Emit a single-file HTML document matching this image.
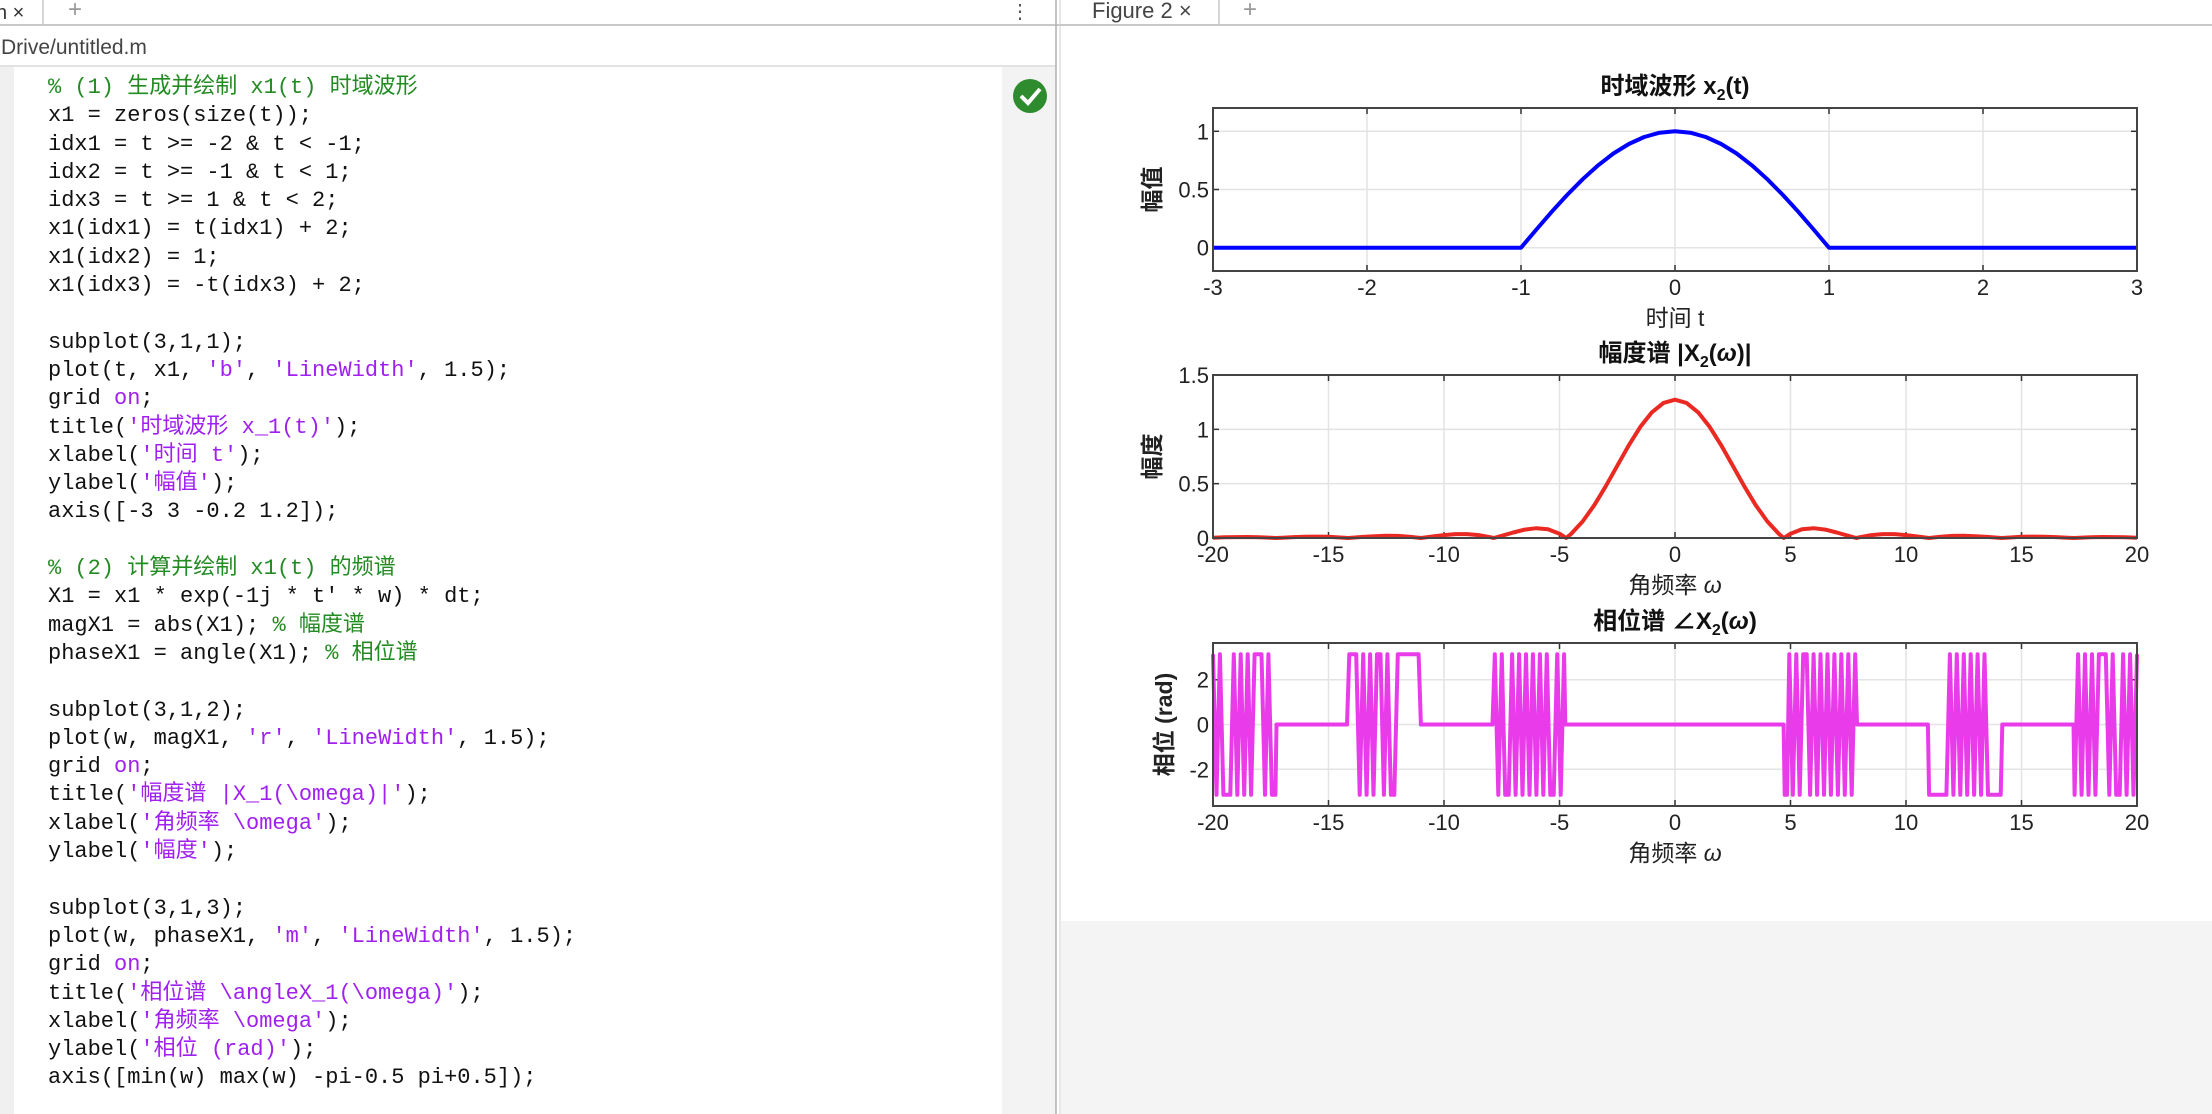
<!DOCTYPE html>
<html><head><meta charset="utf-8">
<style>
html,body{margin:0;padding:0;width:2212px;height:1114px;overflow:hidden;background:#fff;font-family:"Liberation Sans","Noto Sans CJK SC",sans-serif;}
#code{position:absolute;left:48px;top:74px;margin:0;font-family:"Liberation Mono","Noto Sans CJK SC",monospace;font-size:22px;line-height:28.3px;color:#111;white-space:pre;}
.c{color:#228B22}.s{color:#A020F0}
</style></head>
<body>
<svg id="page" width="2212" height="1114" style="position:absolute;left:0;top:0" xmlns="http://www.w3.org/2000/svg" font-family="Liberation Sans, Noto Sans CJK SC, sans-serif">
  <rect x="0" y="0" width="2212" height="1114" fill="#ffffff"/>
  <rect x="0" y="0" width="1056" height="26" fill="#ffffff"/>
  <line x1="0" y1="25" x2="1073" y2="25" stroke="#c8c8c8" stroke-width="2"/>
  <line x1="43" y1="0" x2="43" y2="25" stroke="#c8c8c8" stroke-width="1.5"/>
  <text x="-4" y="19" font-size="20" fill="#333">n ×</text>
  <text x="68" y="17" font-size="24" fill="#999">+</text>
  <text x="1010" y="18" font-size="20" fill="#555">⋮</text>
  <text x="1" y="54" font-size="21" fill="#444">Drive/untitled.m</text>
  <line x1="0" y1="66" x2="1056" y2="66" stroke="#e2e2e2" stroke-width="2"/>
  <rect x="0" y="67" width="14" height="1047" fill="#f0f0f0"/>
  <rect x="1002" y="67" width="54" height="1047" fill="#f3f3f3"/>
  <circle cx="1030" cy="96" r="17" fill="#2e8b2e"/>
  <path d="M1021 96 L1028 103 L1040 89" stroke="#fff" stroke-width="4" fill="none"/>
  <line x1="1056" y1="0" x2="1056" y2="1114" stroke="#b0b0b0" stroke-width="1.5"/>
  <line x1="1060" y1="0" x2="1060" y2="1114" stroke="#d0d0d0" stroke-width="1"/>
  <line x1="1060" y1="25" x2="2212" y2="25" stroke="#c8c8c8" stroke-width="2"/>
  <line x1="1219" y1="0" x2="1219" y2="25" stroke="#c8c8c8" stroke-width="1.5"/>
  <text x="1092" y="18" font-size="22" fill="#444">Figure 2 ×</text>
  <text x="1243" y="17" font-size="24" fill="#999">+</text>
  <rect x="1061" y="921" width="1151" height="193" fill="#f4f4f4"/>
  <g id="charts"></g>
</svg>
<pre id="code"><span class="c">% (1) 生成并绘制 x1(t) 时域波形</span>
x1 = zeros(size(t));
idx1 = t &gt;= -2 &amp; t &lt; -1;
idx2 = t &gt;= -1 &amp; t &lt; 1;
idx3 = t &gt;= 1 &amp; t &lt; 2;
x1(idx1) = t(idx1) + 2;
x1(idx2) = 1;
x1(idx3) = -t(idx3) + 2;

subplot(3,1,1);
plot(t, x1, <span class="s">'b'</span>, <span class="s">'LineWidth'</span>, 1.5);
grid <span class="s">on</span>;
title(<span class="s">'时域波形 x_1(t)'</span>);
xlabel(<span class="s">'时间 t'</span>);
ylabel(<span class="s">'幅值'</span>);
axis([-3 3 -0.2 1.2]);

<span class="c">% (2) 计算并绘制 x1(t) 的频谱</span>
X1 = x1 * exp(-1j * t' * w) * dt;
magX1 = abs(X1); <span class="c">% 幅度谱</span>
phaseX1 = angle(X1); <span class="c">% 相位谱</span>

subplot(3,1,2);
plot(w, magX1, <span class="s">'r'</span>, <span class="s">'LineWidth'</span>, 1.5);
grid <span class="s">on</span>;
title(<span class="s">'幅度谱 |X_1(\omega)|'</span>);
xlabel(<span class="s">'角频率 \omega'</span>);
ylabel(<span class="s">'幅度'</span>);

subplot(3,1,3);
plot(w, phaseX1, <span class="s">'m'</span>, <span class="s">'LineWidth'</span>, 1.5);
grid <span class="s">on</span>;
title(<span class="s">'相位谱 \angleX_1(\omega)'</span>);
xlabel(<span class="s">'角频率 \omega'</span>);
ylabel(<span class="s">'相位 (rad)'</span>);
axis([min(w) max(w) -pi-0.5 pi+0.5]);</pre>
<script>
const timeT = [-3,-1,-0.9,-0.8,-0.7,-0.6,-0.5,-0.4,-0.3,-0.2,-0.1,0,0.1,0.2,0.3,0.4,0.5,0.6,0.7,0.8,0.9,1,3];
const timeX = [0,0,0.1564,0.309,0.454,0.5878,0.7071,0.809,0.891,0.9511,0.9877,1,0.9877,0.9511,0.891,0.809,0.7071,0.5878,0.454,0.309,0.1564,0,0];
const timeXTicks = [-3,-2,-1,0,1,2,3];
const timeYTicks = [0,0.5,1];

const magW = [-20,-19.5,-19,-18.5,-18,-17.5,-17.28,-17,-16.5,-16,-15.5,-15,-14.5,-14.14,-14,-13.5,-13,-12.5,-12,-11.5,-11,-10.5,-10,-9.5,-9,-8.5,-8,-7.85,-7.5,-7,-6.5,-6,-5.5,-5,-4.71,-4.5,-4,-3.5,-3,-2.5,-2,-1.5,-1,-0.5,0,0.5,1,1.5,2,2.5,3,3.5,4,4.5,4.71,5,5.5,6,6.5,7,7.5,7.85,8,8.5,9,9.5,10,10.5,11,11.5,12,12.5,13,13.5,14,14.14,14.5,15,15.5,16,16.5,17,17.28,17.5,18,18.5,19,19.5,20];
const magV = [0.0032,0.0064,0.0087,0.009,0.0065,0.002,0,0.003,0.008,0.012,0.013,0.011,0.005,0,0.002,0.01,0.017,0.02,0.019,0.012,0,0.014,0.027,0.036,0.036,0.027,0.007,0,0.02,0.051,0.077,0.09,0.08,0.04,0,0.037,0.152,0.301,0.476,0.665,0.853,1.022,1.157,1.243,1.273,1.243,1.157,1.022,0.853,0.665,0.476,0.301,0.152,0.037,0,0.04,0.08,0.09,0.077,0.051,0.02,0,0.007,0.027,0.036,0.036,0.027,0.014,0,0.012,0.019,0.02,0.017,0.01,0.002,0,0.005,0.011,0.013,0.012,0.008,0.003,0,0.002,0.0065,0.009,0.0087,0.0064,0.0032];
const freqTicks = [-20,-15,-10,-5,0,5,10,15,20];
const magYTicks = [0,0.5,1,1.5];

const phaseW = [-20,-19.85,-19.7,-19.55,-19.4,-19.25,-19.1,-18.95,-18.8,-18.65,-18.5,-18.35,-18.2,-18.05,-17.9,-17.75,-17.6,-17.45,-17.3,-17.25,-14.2,
 -14.1,-13.95,-13.8,-13.65,-13.5,-13.35,-13.2,-13.05,-12.9,-12.75,-12.6,-12.45,-12.3,-12.15,-12,-11.85,-11.7,-11.55,-11.4,-11.25,-11.1,-11.0,-7.9,
 -7.8,-7.65,-7.5,-7.35,-7.2,-7.05,-6.9,-6.75,-6.6,-6.45,-6.3,-6.15,-6,-5.85,-5.7,-5.55,-5.4,-5.25,-5.1,-4.95,-4.8,-4.75,4.7,
 4.75,4.85,4.95,5.1,5.25,5.4,5.55,5.7,5.85,6,6.15,6.3,6.45,6.6,6.75,6.9,7.05,7.2,7.35,7.5,7.65,7.8,7.88,10.95,
 11,11.15,11.3,11.45,11.6,11.75,11.9,12.05,12.2,12.35,12.5,12.65,12.8,12.95,13.1,13.25,13.4,13.55,13.7,13.85,14,14.1,14.17,17.25,
 17.3,17.45,17.6,17.75,17.9,18.05,18.2,18.35,18.5,18.65,18.8,18.95,19.1,19.25,19.4,19.55,19.7,19.85,20];
const phaseV = [3.14,-3.14,3.14,-3.14,-3.14,-3.14,3.14,-3.14,3.14,-3.14,3.14,-3.14,3.14,3.14,3.14,-3.14,3.14,-3.14,-3.14,0,0,
 3.14,3.14,3.14,-3.14,3.14,-3.14,3.14,-3.14,3.14,3.14,-3.14,3.14,-3.14,-3.14,3.14,3.14,3.14,3.14,3.14,3.14,3.14,0,0,
 3.14,-3.14,3.14,-3.14,-3.14,3.14,-3.14,3.14,-3.14,3.14,-3.14,3.14,-3.14,3.14,-3.14,3.14,-3.14,-3.14,3.14,-3.14,3.14,0,0,
 -3.14,-3.14,3.14,-3.14,3.14,-3.14,3.14,3.14,-3.14,3.14,-3.14,3.14,-3.14,3.14,-3.14,3.14,-3.14,3.14,-3.14,3.14,-3.14,3.14,0,0,
 -3.14,-3.14,-3.14,-3.14,-3.14,-3.14,3.14,-3.14,3.14,-3.14,3.14,-3.14,3.14,-3.14,3.14,-3.14,3.14,-3.14,-3.14,-3.14,-3.14,-3.14,0,0,
 -3.14,3.14,-3.14,3.14,-3.14,3.14,-3.14,3.14,3.14,3.14,-3.14,3.14,-3.14,-3.14,3.14,-3.14,3.14,-3.14,3.14];
const phaseYTicks = [-2,0,2];

const NS = 'http://www.w3.org/2000/svg';
const root = document.getElementById('charts');
function mk(tag, attrs, parent) {
  const e = document.createElementNS(NS, tag);
  for (const k in attrs) e.setAttribute(k, attrs[k]);
  (parent || root).appendChild(e);
  return e;
}

function drawPlot(cfg) {
  const L = 1213, R = 2137, T = cfg.top, B = cfg.top + 163;
  const sx = v => L + (v - cfg.xmin) / (cfg.xmax - cfg.xmin) * (R - L);
  const sy = v => B - (v - cfg.ymin) / (cfg.ymax - cfg.ymin) * (B - T);
  const g = mk('g', {});
  
  
  mk('rect', {x: L, y: T, width: R - L, height: B - T, fill: '#fff'}, g);
  cfg.xt.forEach(v => {
    const gl = mk('line', {x1: sx(v), x2: sx(v), y1: T, y2: B, stroke: '#e3e3e3', 'stroke-width': 1.5}, g);
    
    
    mk('line', {x1: sx(v), x2: sx(v), y1: B, y2: B - 6, stroke: '#333', 'stroke-width': 1.5}, g);
    mk('line', {x1: sx(v), x2: sx(v), y1: T, y2: T + 6, stroke: '#333', 'stroke-width': 1.5}, g);
    const t = mk('text', {x: sx(v), y: B + 24, 'font-size': 22, 'text-anchor': 'middle', fill: '#222'}, g);
    t.textContent = String(v);
    
    
  });
  cfg.yt.forEach(v => {
    const gl = mk('line', {x1: L, x2: R, y1: sy(v), y2: sy(v), stroke: '#e3e3e3', 'stroke-width': 1.5}, g);
    
    
    mk('line', {x1: L, x2: L + 6, y1: sy(v), y2: sy(v), stroke: '#333', 'stroke-width': 1.5}, g);
    mk('line', {x1: R, x2: R - 6, y1: sy(v), y2: sy(v), stroke: '#333', 'stroke-width': 1.5}, g);
    const t = mk('text', {x: L - 4, y: sy(v) + 8, 'font-size': 22, 'text-anchor': 'end', fill: '#222'}, g);
    t.textContent = String(v);
    
    
  });
  const pts = cfg.xs.map((x, i) => sx(x).toFixed(1) + ',' + sy(cfg.ys[i]).toFixed(1)).join(' ');
  const line = mk('polyline', {points: pts, fill: 'none', stroke: cfg.color, 'stroke-width': 4, 'stroke-linejoin': 'round'}, g);
  
  
  mk('rect', {x: L, y: T, width: R - L, height: B - T, fill: 'none', stroke: '#444', 'stroke-width': 2}, g);
  const ti = mk('text', {x: (L + R) / 2, y: T - 14, 'font-size': 24, 'font-weight': 'bold', 'text-anchor': 'middle', fill: '#111'}, g);
  ti.innerHTML = cfg.title;
  
  
  const xl = mk('text', {x: (L + R) / 2, y: B + 55, 'font-size': 23, 'text-anchor': 'middle', fill: '#222'}, g);
  xl.innerHTML = cfg.xlabel;
  
  
  const yx = cfg.ylx, yy = (T + B) / 2;
  const yl = mk('text', {x: yx, y: yy, 'font-size': 23, 'font-weight': 'bold', 'text-anchor': 'middle', fill: '#222', transform: 'rotate(-90 ' + yx + ' ' + yy + ')'}, g);
  yl.textContent = cfg.ylabel;
  
  
}

drawPlot({name: 'time-plot', top: 108, xmin: -3, xmax: 3, ymin: -0.2, ymax: 1.2, xt: timeXTicks, yt: timeYTicks,
  xs: timeT, ys: timeX, color: '#0000ff', title: '时域波形  x<tspan font-size="16" dy="6">2</tspan><tspan dy="-6">(t)</tspan>',
  xlabel: '时间 t', ylabel: '幅值', ylx: 1160});
drawPlot({name: 'magnitude-plot', top: 375, xmin: -20, xmax: 20, ymin: 0, ymax: 1.5, xt: freqTicks, yt: magYTicks,
  xs: magW, ys: magV, color: '#ea2a22', title: '幅度谱  |X<tspan font-size="16" dy="6">2</tspan><tspan dy="-6">(<tspan font-style="italic">ω</tspan>)|</tspan>',
  xlabel: '角频率  <tspan font-style="italic">ω</tspan>', ylabel: '幅度', ylx: 1160});
drawPlot({name: 'phase-plot', top: 643, xmin: -20, xmax: 20, ymin: -3.6416, ymax: 3.6416, xt: freqTicks, yt: phaseYTicks,
  xs: phaseW, ys: phaseV, color: '#ea3bea', title: '相位谱  ∠X<tspan font-size="16" dy="6">2</tspan><tspan dy="-6">(<tspan font-style="italic">ω</tspan>)</tspan>',
  xlabel: '角频率  <tspan font-style="italic">ω</tspan>', ylabel: '相位 (rad)', ylx: 1172});
</script>
</body></html>
